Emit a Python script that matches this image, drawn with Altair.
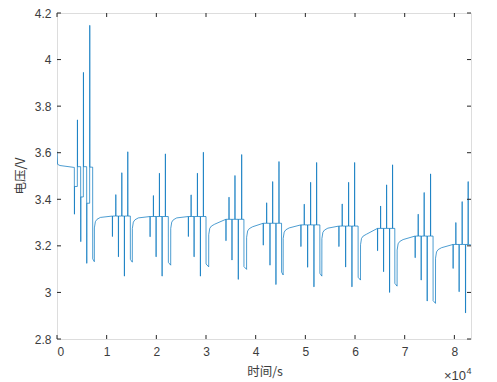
import altair as alt
import pandas as pd

# ---------------- data ----------------
# initial rest segment (time s, voltage V)
init_t = [0, 120, 600, 3400]
init_v = [3.605, 3.550, 3.545, 3.537]

# six pulses per group (discharge / charge alternating): start times (s)
pulse_t = [
    [3490, 4094, 4765, 5302, 5973, 6577],
    [11140, 11820, 12350, 13030, 13550, 14230],
    [18720, 19390, 19930, 20600, 21140, 21800],
    [26430, 26980, 27580, 28250, 28850, 29450],
    [34000, 34610, 35210, 35810, 36480, 37160],
    [41510, 42190, 42860, 43400, 44060, 44670],
    [49090, 49760, 50440, 51040, 51710, 52250],
    [56740, 57400, 58090, 58690, 59360, 59900],
    [64520, 65130, 65730, 66340, 66940, 67540],
    [72090, 72700, 73300, 73900, 74510, 75190],
    [79730, 80280, 80940, 81550, 82230, 82760],
]
# pulse peak voltages (V)
pulse_v = [
    [3.336, 3.741, 3.218, 3.945, 3.125, 4.147],
    [3.240, 3.420, 3.153, 3.514, 3.070, 3.604],
    [3.239, 3.416, 3.153, 3.512, 3.070, 3.595],
    [3.240, 3.419, 3.153, 3.512, 3.070, 3.602],
    [3.222, 3.409, 3.139, 3.502, 3.056, 3.592],
    [3.203, 3.385, 3.117, 3.476, 3.034, 3.562],
    [3.197, 3.379, 3.108, 3.473, 3.024, 3.558],
    [3.197, 3.380, 3.109, 3.473, 3.024, 3.558],
    [3.179, 3.371, 3.089, 3.462, 3.000, 3.548],
    [3.149, 3.336, 3.053, 3.429, 2.963, 3.509],
    [3.103, 3.300, 3.003, 3.390, 2.912, 3.476],
]
# rest levels after each pulse of the first group (V)
first_rest_v = [3.455, 3.540, 3.410, 3.540, 3.383, 3.538]
# rest level just before each group's pulses (V)
plateau_end = [3.537, 3.328, 3.326, 3.326, 3.314, 3.297, 3.290, 3.285, 3.275, 3.242, 3.206]
# long discharge after each group: start, end (s) and bottom voltage (V)
drop_t0 = [7181, 14760, 22410, 30000, 37630, 45210, 52920, 60620, 68010, 75710]
drop_t1 = [7516, 15160, 22890, 30540, 38170, 45530, 53320, 61100, 68470, 76200]
drop_v = [3.132, 3.130, 3.117, 3.110, 3.099, 3.075, 3.070, 3.053, 3.027, 2.953]
# level reached after recovery from each long discharge (V)
plateau_start = [3.322, 3.320, 3.320, 3.293, 3.282, 3.277, 3.276, 3.250, 3.227, 3.192]
# recovery shape after a long discharge (offset s, offset V)
rec_dt = [0, 200, 530, 1200]
rec_dv = [-0.045, -0.018, -0.008, 0.0]
end_t = 83350
end_v = 3.204

xticks = [0, 10000, 20000, 30000, 40000, 50000, 60000, 70000, 80000]
yticks = [2.8, 3.0, 3.2, 3.4, 3.6, 3.8, 4.0, 4.2]

# ---------------- build the trace ----------------
T, V = [], []


def add(t, v):
    T.append(t)
    V.append(v)


for t, v in zip(init_t, init_v):
    add(t, v)

for g in range(len(pulse_t)):
    rest = plateau_end[g]
    add(pulse_t[g][0] - 5, rest)
    for k in range(6):
        t = pulse_t[g][k]
        nxt = first_rest_v[k] if g == 0 else plateau_end[g]
        add(t, rest)
        add(t + 8, pulse_v[g][k])
        add(t + 35, pulse_v[g][k])
        add(t + 45, nxt)
        rest = nxt
    if g < len(drop_t0):
        add(drop_t0[g], rest)
        add(drop_t0[g] + 10, drop_v[g] + 0.012)
        add(drop_t1[g], drop_v[g])
        for dt, dv in zip(rec_dt, rec_dv):
            add(drop_t1[g] + 10 + dt, plateau_start[g] + dv)
    else:
        add(end_t, end_v)

df = pd.DataFrame({"t": T, "v": V, "i": range(len(T))})

W, H = 414, 326
AX = "#262626"
LBL = "#3c3c3c"
FONT = "Liberation Sans, Arial, Helvetica, sans-serif"

xs = alt.Scale(domain=[0, end_t], nice=False, zero=False)
ys = alt.Scale(domain=[2.8, 4.2], nice=False, zero=False)
xaxis = alt.Axis(values=xticks, labelExpr="'' + datum.value / 10000", ticks=False,
                 domain=False, grid=False, labelPadding=7, labelFontSize=12,
                 labelFont=FONT, labelColor=LBL, title=None)
yaxis = alt.Axis(values=yticks, labelExpr="format(datum.value, '.1~f')", ticks=False,
                 domain=False, grid=False, labelPadding=6, labelFontSize=12,
                 labelFont=FONT, labelColor=LBL, title=None)

line = alt.Chart(df).mark_line(color="#0072BD", strokeWidth=0.7, clip=True).encode(
    x=alt.X("t:Q", scale=xs, axis=xaxis),
    y=alt.Y("v:Q", scale=ys, axis=yaxis),
    order="i:Q",
)

xt = pd.DataFrame({"t": xticks})
yt = pd.DataFrame({"v": yticks})
tick_bottom = alt.Chart(xt).mark_rule(color=AX, strokeWidth=1).encode(
    x=alt.X("t:Q", scale=xs, axis=xaxis), y=alt.value(H), y2=alt.value(H - 4))
tick_top = alt.Chart(xt).mark_rule(color=AX, strokeWidth=1).encode(
    x=alt.X("t:Q", scale=xs, axis=xaxis), y=alt.value(0), y2=alt.value(4))
tick_left = alt.Chart(yt).mark_rule(color=AX, strokeWidth=1).encode(
    y=alt.Y("v:Q", scale=ys, axis=yaxis), x=alt.value(0), x2=alt.value(4))
tick_right = alt.Chart(yt).mark_rule(color=AX, strokeWidth=1).encode(
    y=alt.Y("v:Q", scale=ys, axis=yaxis), x=alt.value(W), x2=alt.value(W - 4))

xtitle = alt.Chart(pd.DataFrame({"s": ["时间/s"]})).mark_text(
    font="Noto Sans CJK SC", fontSize=12.5, color=LBL,
    baseline="middle", align="center").encode(
    x=alt.value(208), y=alt.value(H + 33), text="s:N")
ytitle = alt.Chart(pd.DataFrame({"s": ["电压/V"]})).mark_text(
    font="Noto Sans CJK SC", fontSize=12.5, color=LBL, angle=270,
    baseline="middle", align="center").encode(
    x=alt.value(-36), y=alt.value(H / 2), text="s:N")
exp_main = alt.Chart(pd.DataFrame({"s": ["×10"]})).mark_text(
    font=FONT, fontSize=13, color=LBL, align="right", baseline="alphabetic").encode(
    x=alt.value(409), y=alt.value(H + 41), text="s:N")
exp_sup = alt.Chart(pd.DataFrame({"s": ["4"]})).mark_text(
    font=FONT, fontSize=9, color=LBL, align="left", baseline="alphabetic").encode(
    x=alt.value(409.5), y=alt.value(H + 35), text="s:N")

chart = alt.layer(line, tick_bottom, tick_top, tick_left, tick_right,
                  xtitle, ytitle, exp_main, exp_sup).properties(
    width=W, height=H,
    autosize=alt.AutoSizeParams(type="none"),
    padding={"left": 49, "top": 5, "right": 18, "bottom": 45},
).configure_view(stroke=AX, strokeWidth=1).configure(background="white")

chart.save("out.html", embed_options={"renderer": "svg", "actions": False})
